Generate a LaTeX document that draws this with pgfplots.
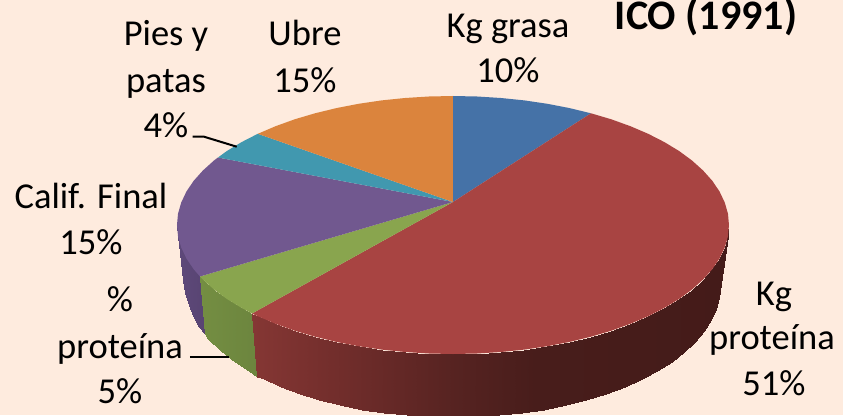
\documentclass[border=0pt]{standalone}
\usepackage{pgfplots}
\pgfplotsset{compat=1.18}
\usepackage{fontspec}
\setmainfont{Carlito}
\definecolor{bgc}{RGB}{254,235,222}
\definecolor{cBlue}{RGB}{69,114,167}
\definecolor{cRed}{RGB}{168,68,66}
\definecolor{cGreen}{RGB}{137,165,78}
\definecolor{cPurple}{RGB}{113,88,143}
\definecolor{cTeal}{RGB}{65,152,175}
\definecolor{cOrange}{RGB}{219,132,61}
\pgfplotsset{
  colormap={redside}{rgb255(0pt)=(133,55,52); rgb255(50pt)=(122,49,47); rgb255(125pt)=(105,42,40); rgb255(205pt)=(86,35,33); rgb255(285pt)=(72,29,27); rgb255(480pt)=(68,27,25)},
  colormap={greenside}{rgb255(0pt)=(116,142,66); rgb255(50pt)=(108,133,62)},
  colormap={purpleside}{rgb255(0pt)=(94,73,122); rgb255(25pt)=(88,68,114)},
}
\newcommand{\lab}[3]{\node[anchor=base,inner sep=0pt,text=black] at (axis cs:#1,-#2,0) {\fontsize{36.5}{40}\selectfont #3};}
\begin{document}
\begin{tikzpicture}
\fill[bgc] (0,0) rectangle (843pt,415pt);
\begin{axis}[
  at={(0,0)},anchor=south west,
  scale only axis,width=843pt,height=415pt,
  xmin=0,xmax=843,ymin=-415,ymax=0,zmin=0,zmax=1,
  view={0}{90},hide axis,clip=true,point meta rel=per plot,
]
% purple side
\addplot3[surf,shader=interp,colormap name=purpleside,mesh/rows=2,point meta=x,draw=none] table {
177 -225 0
178 -236.2 0
181.2 -247.4 0
186.4 -258.4 0
193.6 -269.1 0
200 -276.5 0
183 -280 0
185.5 -293 0
189 -305 0
193.5 -316 0
199 -327 0
205 -334 0
};
% green side
\addplot3[surf,shader=interp,colormap name=greenside,mesh/rows=2,point meta=x,draw=none] table {
200 -276.5 0
202.9 -279.5 0
214 -289.5 0
226.9 -299 0
241.6 -307.9 0
252 -313.5 0
205 -334 0
208.5 -339 0
220 -350 0
232 -360 0
246.5 -369 0
257.5 -376.5 0
};
% red side
\addplot3[surf,shader=interp,colormap name=redside,mesh/rows=2,point meta=x,draw=none] table {
252 -313.5 0
257.8 -316.2 0
275.6 -323.8 0
294.7 -330.7 0
315 -336.7 0
336.4 -341.9 0
358.6 -346.2 0
381.6 -349.6 0
405.1 -352 0
428.9 -353.5 0
453 -354 0
477.1 -353.5 0
500.9 -352 0
524.4 -349.6 0
547.4 -346.2 0
569.6 -341.9 0
591 -336.7 0
611.3 -330.7 0
630.4 -323.8 0
648.2 -316.2 0
664.4 -307.9 0
679.1 -299 0
692 -289.5 0
703.1 -279.5 0
712.4 -269.1 0
719.6 -258.4 0
724.8 -247.4 0
728 -236.2 0
729 -225 0
257.5 -376.5 0
264.2 -379 0
281.4 -386.8 0
299.9 -393.7 0
319.5 -399.8 0
340.2 -405.1 0
361.7 -409.5 0
383.9 -412.9 0
406.6 -415.4 0
429.7 -416.9 0
453 -417.4 0
476.3 -416.9 0
499.4 -415.4 0
522.1 -412.9 0
544.3 -409.5 0
565.8 -405.1 0
586.5 -399.8 0
606.1 -393.7 0
624.6 -386.8 0
641.8 -379 0
657.5 -370.6 0
671.7 -361.5 0
684.2 -351.9 0
695 -341.8 0
703.9 -331.2 0
710.9 -320.3 0
715.9 -309.1 0
719 -297.8 0
720 -286.4 0
};
% top wedges
\addplot3[fill=cBlue,draw=none] coordinates {(453,-202,0)(453,-96,0)(477.1,-96.5,0)(500.9,-98,0)(524.4,-100.4,0)(547.4,-103.8,0)(569.6,-108.1,0)(591,-113.3,0)} --cycle;
\addplot3[fill=cRed,draw=none] coordinates {(453,-202,0)(591,-113.3,0)(611.3,-119.3,0)(630.4,-126.2,0)(648.2,-133.8,0)(664.4,-142.1,0)(679.1,-151,0)(692,-160.5,0)(703.1,-170.5,0)(712.4,-180.9,0)(719.6,-191.6,0)(724.8,-202.6,0)(728,-213.8,0)(729,-225,0)(728,-236.2,0)(724.8,-247.4,0)(719.6,-258.4,0)(712.4,-269.1,0)(703.1,-279.5,0)(692,-289.5,0)(679.1,-299,0)(664.4,-307.9,0)(648.2,-316.2,0)(630.4,-323.8,0)(611.3,-330.7,0)(591,-336.7,0)(569.6,-341.9,0)(547.4,-346.2,0)(524.4,-349.6,0)(500.9,-352,0)(477.1,-353.5,0)(453,-354,0)(428.9,-353.5,0)(405.1,-352,0)(381.6,-349.6,0)(358.6,-346.2,0)(336.4,-341.9,0)(315,-336.7,0)(294.7,-330.7,0)(275.6,-323.8,0)(257.8,-316.2,0)(252,-313.5,0)} --cycle;
\addplot3[fill=cGreen,draw=none] coordinates {(453,-202,0)(252,-313.5,0)(241.6,-307.9,0)(226.9,-299,0)(214,-289.5,0)(202.9,-279.5,0)(200,-276.5,0)} --cycle;
\addplot3[fill=cPurple,draw=none] coordinates {(453,-202,0)(200,-276.5,0)(193.6,-269.1,0)(186.4,-258.4,0)(181.2,-247.4,0)(178,-236.2,0)(177,-225,0)(178,-213.8,0)(181.2,-202.6,0)(186.4,-191.6,0)(193.6,-180.9,0)(202.9,-170.5,0)(214,-160.5,0)(218,-157.5,0)} --cycle;
\addplot3[fill=cTeal,draw=none] coordinates {(453,-202,0)(218,-157.5,0)(226.9,-151,0)(241.6,-142.1,0)(257.8,-133.8,0)} --cycle;
\addplot3[fill=cOrange,draw=none] coordinates {(453,-202,0)(257.8,-133.8,0)(275.6,-126.2,0)(294.7,-119.3,0)(315,-113.3,0)(336.4,-108.1,0)(358.6,-103.8,0)(381.6,-100.4,0)(405.1,-98,0)(428.9,-96.5,0)(453,-96,0)} --cycle;
% leader lines
\addplot3[black,line width=2pt] coordinates {(192.7,-136.7,0)(204,-136.7,0)(236.7,-146.7,0)};
\addplot3[black,line width=2pt] coordinates {(190,-356.7,0)(229,-356.7,0)};
% labels
\lab{508}{38}{Kg grasa}
\lab{508}{83}{10\%}
\lab{166}{46}{Pies y}
\lab{166}{93}{patas}
\lab{166}{138}{4\%}
\lab{305}{46}{Ubre}
\lab{305}{93}{15\%}
\lab{91}{208}{Calif. Final}
\lab{91}{254}{15\%}
\lab{120}{311}{\%}
\lab{120}{358}{proteína}
\lab{120}{403}{5\%}
\lab{774}{305}{Kg}
\lab{772}{349}{proteína}
\lab{774}{395}{51\%}
\node[anchor=base,inner sep=0pt] at (axis cs:706,-30,0) {\fontsize{42}{46}\selectfont\bfseries ICO (1991)};
\end{axis}
\end{tikzpicture}
\end{document}
